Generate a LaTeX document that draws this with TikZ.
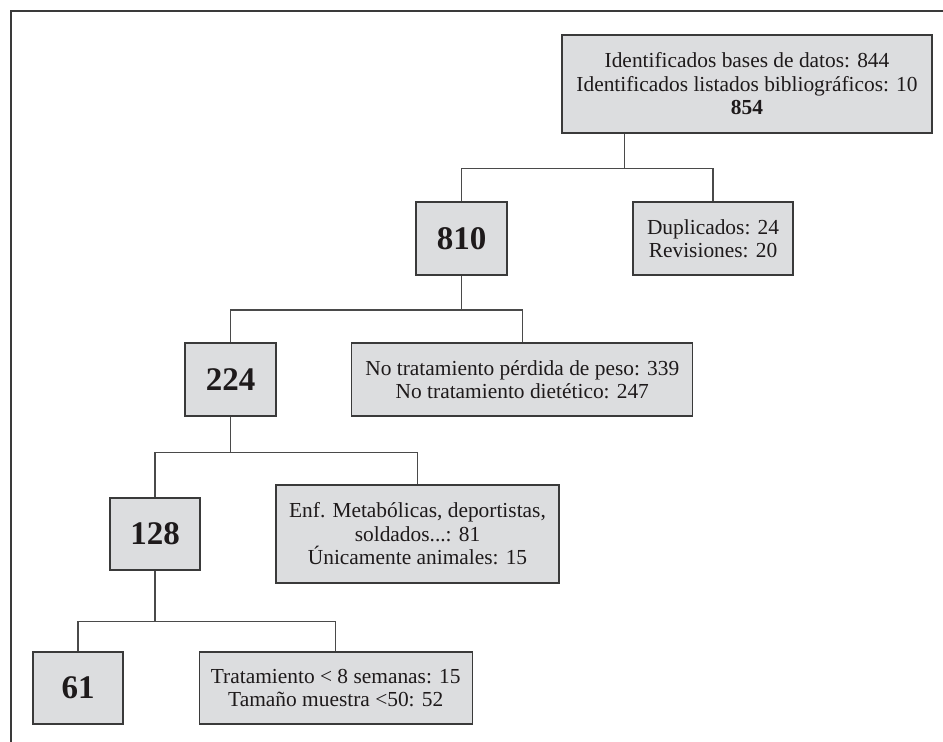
\documentclass[tikz,border=0pt]{standalone}
\usepackage{fontspec}
\setmainfont{Liberation Serif}
\definecolor{boxfill}{HTML}{DCDDDF}
\definecolor{boxline}{HTML}{3A3A3A}
\definecolor{txt}{HTML}{1E1A1B}
\definecolor{wire}{HTML}{4A4A4A}
\begin{document}
\begin{tikzpicture}[x=1pt,y=-1pt,
  box/.style={draw=boxline,fill=boxfill,line width=1.2pt,inner sep=0pt,align=center,
    text=txt,font=\fontsize{21.4}{23.5}\selectfont,anchor=center},
  numbox/.style={box,font=\fontsize{33}{35}\selectfont\bfseries},
  wire/.style={draw=wire,line width=1.2pt},
  frame/.style={draw=boxline,line width=1.4pt}]
\useasboundingbox (0,0) rectangle (943,742);
% frame
\coordinate (ftr) at (943,11);
\coordinate (ftl) at (11,11);
\coordinate (fbl) at (11,742);
\draw[frame] (ftr) -- (ftl) -- (fbl);
% nodes
\node[box,minimum width=370pt,minimum height=98pt] (top) at (747,84)
  {Identificados bases de datos: 844\\Identificados listados bibliográficos: 10\\\textbf{854}};
\node[numbox,minimum width=91pt,minimum height=73pt] (n810) at (461.5,238.5) {810};
\node[box,minimum width=160pt,minimum height=73pt] (dup) at (713,238.5)
  {Duplicados: 24\\Revisiones: 20};
\node[numbox,minimum width=91pt,minimum height=73pt] (n224) at (230.5,379.5) {224};
\node[box,minimum width=341pt,minimum height=73pt] (notrat) at (522.3,379.5)
  {No tratamiento pérdida de peso: 339\\No tratamiento dietético: 247};
\node[numbox,minimum width=90pt,minimum height=72pt] (n128) at (155,534) {128};
\node[box,minimum width=283pt,minimum height=98pt] (enf) at (417.5,534)
  {Enf. Metabólicas, deportistas,\\soldados...: 81\\Únicamente animales: 15};
\node[numbox,minimum width=90pt,minimum height=72pt] (n61) at (78,688) {61};
\node[box,minimum width=273pt,minimum height=72pt] (trat) at (335.7,688)
  {Tratamiento < 8 semanas: 15\\Tamaño muestra <50: 52};
% connectors
\coordinate (tdrop) at ([xshift=62.7pt]top.south west);
\draw[wire] (tdrop) -- ++(0,34.7) coordinate (b1);
\draw[wire] (n810.north) |- (b1) -| (dup.north);
\draw[wire] (n810.south) -- ++(0,34.3) coordinate (b2);
\draw[wire] (n224.north) |- (b2) -| (notrat.north);
\draw[wire] (n224.south) -- ++(0,36) coordinate (b3);
\draw[wire] (n128.north) |- (b3) -| (enf.north);
\draw[wire] (n128.south) -- ++(0,51) coordinate (b4);
\draw[wire] (n61.north) |- (b4) -| (trat.north);
\end{tikzpicture}
\end{document}
